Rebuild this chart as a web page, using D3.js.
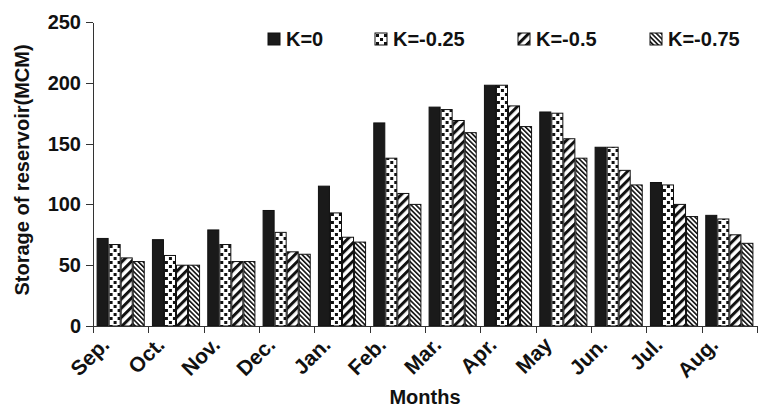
<!DOCTYPE html>
<html>
<head>
<meta charset="utf-8">
<script src="https://cdn.jsdelivr.net/npm/d3@7"></script>
<style>
	body { margin: 0; background: #fff; }
	text { font-family: "Liberation Sans", Arial, sans-serif; font-weight: bold; fill: #111; }
	.axis path, .axis line { stroke: #333; stroke-width: 1; shape-rendering: crispEdges; }
</style>
</head>
<body>
<div id="chart"></div>
<script>
// Storage of reservoir by month - grouped bars with hatch patterns

// data
var months = ["Sep.", "Oct.", "Nov.", "Dec.", "Jan.", "Feb.", "Mar.", "Apr.", "May", "Jun.", "Jul.", "Aug."];
var seriesNames = ["K=0", "K=-0.25", "K=-0.5", "K=-0.75"];
var k0 = [72, 71, 79, 95, 115, 167, 180, 198, 176, 147, 118, 91];
var k025 = [67, 58, 67, 77, 93, 138, 178, 198, 175, 147, 116, 88];
var k05 = [56, 50, 53, 61, 73, 109, 169, 181, 154, 128, 100, 75];
var k075 = [53, 50, 53, 59, 69, 100, 159, 164, 138, 116, 90, 68];
var yTicks = [0, 50, 100, 150, 200, 250];

var seriesValues = [k0, k025, k05, k075];
var fills = ["#1a1a1a", "url(#dots)", "url(#wide)", "url(#dense)"];

var width = 759, height = 408;
var margin = {left: 93, right: 2, top: 22, bottom: 82};

var svg = d3.select("#chart").append("svg")
	.attr("width", width)
	.attr("height", height);

// patterns
var defs = svg.append("defs");

var dots = defs.append("pattern")
	.attr("id", "dots")
	.attr("patternUnits", "userSpaceOnUse")
	.attr("width", 8).attr("height", 8);
dots.append("rect").attr("width", 8).attr("height", 8).attr("fill", "#fff");
dots.append("rect").attr("x", 1).attr("y", 1).attr("width", 3).attr("height", 3).attr("fill", "#111");
dots.append("rect").attr("x", 5).attr("y", 5).attr("width", 3).attr("height", 3).attr("fill", "#111");

var wide = defs.append("pattern")
	.attr("id", "wide")
	.attr("patternUnits", "userSpaceOnUse")
	.attr("width", 6.5).attr("height", 6.5)
	.attr("patternTransform", "rotate(45)");
wide.append("rect").attr("width", 6.5).attr("height", 6.5).attr("fill", "#fff");
wide.append("rect").attr("width", 3).attr("height", 6.5).attr("fill", "#111");

var dense = defs.append("pattern")
	.attr("id", "dense")
	.attr("patternUnits", "userSpaceOnUse")
	.attr("width", 3.4).attr("height", 3.4)
	.attr("patternTransform", "rotate(-45)");
dense.append("rect").attr("width", 3.4).attr("height", 3.4).attr("fill", "#fff");
dense.append("rect").attr("width", 1.6).attr("height", 3.4).attr("fill", "#111");

// scales
var x0 = d3.scaleBand()
	.domain(months)
	.range([margin.left, width - margin.right])
	.paddingInner(0.13)
	.paddingOuter(0.065);

var x1 = d3.scaleBand()
	.domain(seriesNames)
	.range([0, x0.bandwidth()]);

var xb = d3.scaleLinear()
	.domain([0, months.length])
	.range(x0.range());

var y = d3.scaleLinear()
	.domain([0, 250])
	.range([326, margin.top]);

// bars
var groups = svg.selectAll(".month")
	.data(months)
	.enter().append("g")
	.attr("class", "month")
	.attr("transform", function(d) { return "translate(" + x0(d) + ",0)"; });

groups.selectAll("rect")
	.data(function(d, i) {
		return seriesNames.map(function(s, j) { return {name: s, value: seriesValues[j][i], idx: j}; });
	})
	.enter().append("rect")
	.attr("x", function(d) { return x1(d.name) + 0.5; })
	.attr("width", x1.bandwidth() - 1)
	.attr("y", function(d) { return y(d.value); })
	.attr("height", function(d) { return y(0) - y(d.value); })
	.attr("fill", function(d) { return fills[d.idx]; })
	.attr("stroke", "#111")
	.attr("stroke-width", 1);

// y axis
svg.append("g")
	.attr("class", "axis")
	.attr("transform", "translate(" + margin.left + ",0)")
	.call(d3.axisLeft(y).tickValues(yTicks).tickSize(7).tickSizeOuter(0).tickPadding(5))
	.selectAll("text")
	.style("font-size", "20px")
	.attr("fill", "#111");

// x axis: ticks at category boundaries
svg.append("g")
	.attr("class", "axis")
	.attr("transform", "translate(0," + y(0) + ")")
	.call(d3.axisBottom(xb).ticks(months.length).tickSize(7).tickSizeOuter(0).tickFormat(""));

// month labels
svg.append("g")
	.selectAll("text")
	.data(months)
	.enter().append("text")
	.attr("transform", function(d) {
		return "translate(" + (x0(d) + x0.bandwidth() / 2 - 10) + ",346) rotate(-45)";
	})
	.attr("text-anchor", "end")
	.style("font-size", "21px")
	.text(function(d) { return d; });

// axis titles
svg.append("text")
	.attr("x", (xb.range()[0] + xb.range()[1]) / 2)
	.attr("y", 404)
	.attr("text-anchor", "middle")
	.style("font-size", "20px")
	.text("Months");

svg.append("text")
	.attr("transform", "translate(29,170) rotate(-90)")
	.attr("text-anchor", "middle")
	.style("font-size", "20px")
	.text("Storage of reservoir(MCM)");

// legend
var legendX = [268, 375, 518, 650];
var legend = svg.selectAll(".legend")
	.data(seriesNames)
	.enter().append("g")
	.attr("class", "legend")
	.attr("transform", function(d, i) { return "translate(" + legendX[i] + ",33)"; });

legend.append("rect")
	.attr("width", 12)
	.attr("height", 12)
	.attr("fill", function(d, i) { return fills[i]; })
	.attr("stroke", "#111");

legend.append("text")
	.attr("x", 18)
	.attr("y", 13)
	.style("font-size", "20px")
	.text(function(d) { return d; });
</script>
</body>
</html>
